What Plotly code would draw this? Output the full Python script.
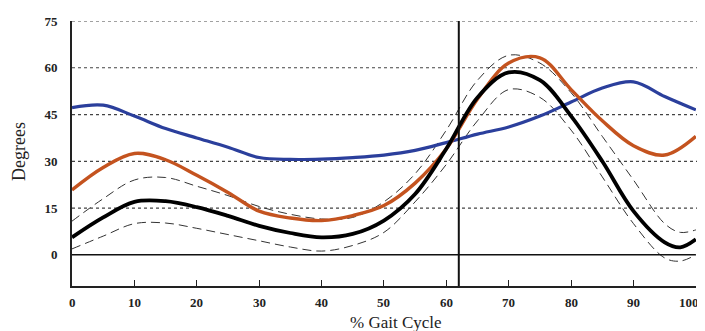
import plotly.graph_objects as go

# --- data ---
mean_x = [0, 5, 10, 15, 20, 25, 30, 35, 40, 45, 50, 55, 60, 65, 70, 75, 80, 85, 90, 95, 97.5, 100]
mean_y = [5.6, 12, 17, 17.2, 15.3, 12.5, 9.3, 7, 5.6, 6.7, 11, 19.5, 34, 50.5, 58.5, 56, 44.5, 30, 14, 4, 2.4, 5]

upper_x = [0, 5, 10, 15, 20, 25, 30, 35, 40, 45, 50, 55, 60, 65, 70, 75, 80, 85, 90, 95, 97.5, 100]
upper_y = [10.8, 18, 24, 24.8, 22, 19, 15.5, 13, 11.5, 12, 17, 26, 40, 56, 64, 61.5, 52, 38, 24, 10, 7.2, 8]

lower_x = [0, 5, 10, 15, 20, 25, 30, 35, 40, 45, 50, 55, 60, 65, 70, 75, 80, 85, 90, 95, 97.5, 100]
lower_y = [1.9, 6, 10, 10.2, 8.5, 6.5, 4.5, 2.5, 1.2, 3, 7.2, 17, 29, 43, 53, 50.5, 40, 25, 10, -1, -2, 0]

orange_x = [0, 5, 10, 15, 20, 25, 30, 35, 40, 45, 50, 55, 60, 65, 70, 75, 80, 85, 90, 95, 100]
orange_y = [20.8, 28, 32.5, 30.5, 25.5, 20, 14, 11.8, 11, 12.6, 15.8, 23, 34, 50, 61.5, 63.2, 53, 43, 35, 32, 38]

blue_x = [0, 5, 10, 15, 20, 25, 30, 35, 40, 45, 50, 55, 60, 65, 70, 75, 80, 85, 90, 95, 100]
blue_y = [47.2, 48, 44.5, 40.5, 37.5, 34.5, 31.2, 30.6, 30.7, 31.2, 32, 33.5, 36, 38.7, 41, 44.5, 49, 53.5, 55.5, 50.8, 46.5]

y_ticks = [0, 15, 30, 45, 60, 75]
x_ticks = [0, 10, 20, 30, 40, 50, 60, 70, 80, 90, 100]
x_title = "% Gait Cycle"
y_title = "Degrees"
toe_off = 62

FONT = "Liberation Serif"
PAGE_OFFSET = 8  # default body margin of the html page

fig = go.Figure()

dash_line = dict(color="#333333", width=1, dash="9px,5px", shape="spline", smoothing=1.0)
fig.add_trace(go.Scatter(x=upper_x, y=upper_y, mode="lines", line=dash_line, hoverinfo="skip"))
fig.add_trace(go.Scatter(x=lower_x, y=lower_y, mode="lines", line=dash_line, hoverinfo="skip"))
fig.add_trace(go.Scatter(x=blue_x, y=blue_y, mode="lines",
                         line=dict(color="#2b3f9c", width=3.2, shape="spline", smoothing=1.0)))
fig.add_trace(go.Scatter(x=orange_x, y=orange_y, mode="lines",
                         line=dict(color="#c4531f", width=3.4, shape="spline", smoothing=1.0)))
fig.add_trace(go.Scatter(x=mean_x, y=mean_y, mode="lines",
                         line=dict(color="#000000", width=3.8, shape="spline", smoothing=1.0)))

shapes = []
for v in y_ticks[1:]:
    shapes.append(dict(type="line", xref="paper", yref="y", x0=0, x1=1.014, y0=v, y1=v,
                       line=dict(color="#444444", width=1.2, dash="3px,3px"), layer="below"))
shapes.append(dict(type="line", xref="x", yref="y", x0=0, x1=100, y0=0, y1=0,
                   line=dict(color="#111111", width=1.6)))
shapes.append(dict(type="line", xref="x", yref="y", x0=toe_off, x1=toe_off, y0=75, y1=-12.5,
                   line=dict(color="#111111", width=2)))

plot_w, plot_h = 624, 265
left, top = 72 - PAGE_OFFSET, 21 - PAGE_OFFSET
W, H = 705, 331
bottom_px = 21 + plot_h  # absolute pixel of the x axis line

annotations = []
for v in x_ticks:
    last = v == x_ticks[-1]
    annotations.append(dict(text="<b>%d</b>" % v, xref="x", yref="paper", x=v, y=-7 / plot_h,
                            xanchor="right" if last else "center", yanchor="top",
                            xshift=5 if last else 0, showarrow=False,
                            font=dict(family=FONT, size=13, color="#222")))
annotations.append(dict(text=x_title, xref="paper", yref="paper", x=(396 - 72) / plot_w,
                        y=-(322 - bottom_px) / plot_h, xanchor="center", yanchor="middle",
                        showarrow=False, font=dict(family=FONT, size=17, color="#222")))
annotations.append(dict(text=y_title, xref="paper", yref="paper", x=(19 - 72) / plot_w,
                        y=(bottom_px - 152) / plot_h, xanchor="center", yanchor="middle",
                        showarrow=False, textangle=-90,
                        font=dict(family=FONT, size=18, color="#222")))

fig.update_layout(
    width=W, height=H,
    margin=dict(l=left, r=W - left - plot_w, t=top, b=H - top - plot_h),
    paper_bgcolor="white", plot_bgcolor="white",
    showlegend=False,
    shapes=shapes,
    annotations=annotations,
    font=dict(family=FONT, color="#222222"),
    xaxis=dict(range=[0, 100.02], tickvals=x_ticks, showticklabels=False,
               ticks="inside", ticklen=6, tickwidth=1.2, tickcolor="#222",
               showline=True, linecolor="#222", linewidth=1.6,
               showgrid=False, zeroline=False, automargin=False),
    yaxis=dict(range=[-10, 75], tickvals=y_ticks, ticktext=["<b>%d</b>" % v for v in y_ticks],
               ticks="", showline=True, linecolor="#222", linewidth=1.6,
               showgrid=False, zeroline=False, ticklabelstandoff=10, automargin=False,
               tickfont=dict(family=FONT, size=13, color="#222")),
)

fig.write_html("out.html")
